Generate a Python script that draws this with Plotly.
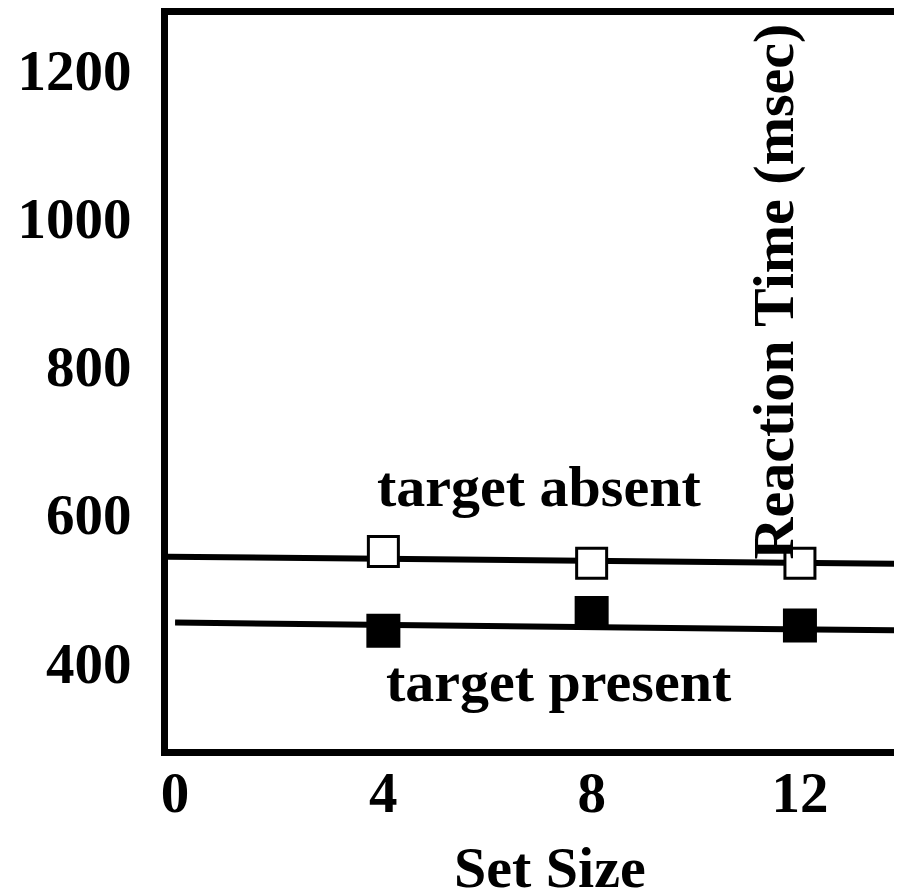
import plotly.graph_objects as go

# Data
set_sizes = [4, 8, 12]
absent_rt = [550, 534, 534]
present_rt = [443, 467, 450]

# fitted lines
absent_fit_x = [-0.2, 14.5]
absent_fit_y = [543, 533]
present_fit_x = [0, 14.5]
present_fit_y = [454, 443]

x_ticks = [0, 4, 8, 12]
y_ticks = [400, 600, 800, 1000, 1200]

FONT = "Liberation Serif"
FS = 57

fig = go.Figure()
fig.add_trace(go.Scatter(x=absent_fit_x, y=absent_fit_y, mode="lines",
                         line=dict(color="black", width=6), showlegend=False))
fig.add_trace(go.Scatter(x=present_fit_x, y=present_fit_y, mode="lines",
                         line=dict(color="black", width=6), showlegend=False))
fig.add_trace(go.Scatter(x=set_sizes, y=absent_rt, mode="markers",
                         marker=dict(symbol="square", size=30, color="white",
                                     line=dict(color="black", width=3)),
                         showlegend=False))
fig.add_trace(go.Scatter(x=set_sizes, y=present_rt, mode="markers",
                         marker=dict(symbol="square", size=34, color="black",
                                     line=dict(width=0)),
                         showlegend=False))

font = dict(family=FONT, size=FS, color="black", weight="bold")
font58 = dict(family=FONT, size=58, color="black", weight="bold")

W, H = 894, 886
L, T, R = 159.5, 7, 0
B = H - 741.5
pw = W - L - R
ph = H - T - B

fig.add_annotation(x=6.98, y=637.5, xref="x", yref="y", text="target absent",
                   showarrow=False, font=font58, xanchor="center", yanchor="middle")
fig.add_annotation(x=7.37, y=374.4, xref="x", yref="y", text="target present",
                   showarrow=False, font=font58, xanchor="center", yanchor="middle")
fig.add_annotation(x=(542 - L) / pw, y=(741.5 - 860) / ph, xref="paper", yref="paper",
                   text="Set Size", showarrow=False, font=font58,
                   xanchor="center", yanchor="middle")
fig.add_annotation(x=11.5, y=901, xref="x", yref="y", text="Reaction Time (msec)",
                   showarrow=False, font=font58, textangle=-90,
                   xanchor="center", yanchor="middle")

fig.update_layout(
    width=W, height=H,
    margin=dict(l=L, r=R, t=T, b=B, pad=0),
    plot_bgcolor="white", paper_bgcolor="white",
    xaxis=dict(range=[-0.136, 13.96], tickvals=x_ticks,
               ticktext=[str(v) for v in x_ticks],
               showgrid=False, zeroline=False,
               showline=True, linecolor="black", linewidth=7, mirror=True,
               ticks="", ticklabelstandoff=-12,
               tickfont=font),
    yaxis=dict(range=[283.3, 1274.5], tickvals=y_ticks,
               ticktext=[str(v) for v in y_ticks],
               showgrid=False, zeroline=False,
               showline=True, linecolor="black", linewidth=7, mirror=False,
               ticks="outside", ticklen=18, tickcolor="white",
               tickfont=font),
)

fig.write_html("out.html")
